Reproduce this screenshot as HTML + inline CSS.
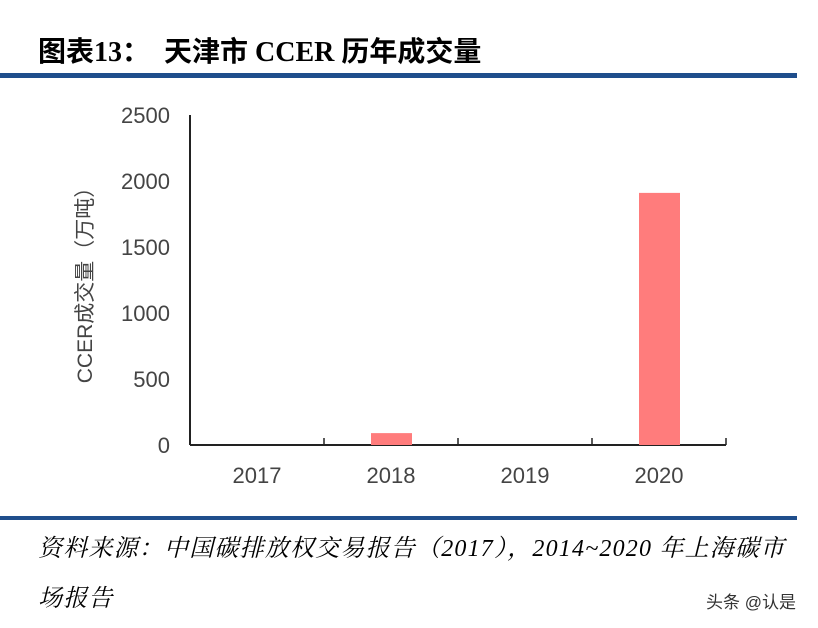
<!DOCTYPE html>
<html><head><meta charset="utf-8"><style>
body{margin:0;background:#fff;width:818px;height:628px;overflow:hidden;position:relative;font-family:"Liberation Sans","Noto Sans CJK SC",sans-serif;}
.t{position:absolute;white-space:nowrap}
</style></head><body>
<div class="t" style="left:38px;top:30px;font-size:28px;font-weight:bold;font-family:'Liberation Serif','Noto Sans CJK SC',serif;">图表13：&nbsp;&nbsp;天津市 CCER 历年成交量</div>
<div style="position:absolute;left:0;top:73px;width:797px;height:5px;background:#1f4e8c"></div>
<svg width="818" height="628" style="position:absolute;left:0;top:0" id="svg">
<text transform="translate(92,280) rotate(-90)" text-anchor="middle" font-size="21" fill="#444" font-family="Liberation Sans,Noto Sans CJK SC,sans-serif">CCER成交量（万吨）</text>
</svg>
<div style="position:absolute;left:0;top:516px;width:797px;height:4px;background:#1f4e8c"></div>
<div class="t" style="left:38px;top:524px;font-size:24px;letter-spacing:1.2px;font-style:italic;font-family:'Liberation Serif','Noto Serif CJK SC',serif;line-height:50px;white-space:normal;width:755px">资料来源：中国碳排放权交易报告（2017），2014~2020 年上海碳市场报告</div>
<div class="t" style="left:706px;top:588px;font-size:17px;color:#333">头条 @认是</div>
<script>
const categories=["2017","2018","2019","2020"];
const values=[0,90,0,1910];
const yTicks=[0,500,1000,1500,2000,2500];
const svg=document.getElementById('svg');
const NS='http://www.w3.org/2000/svg';
const x0=190,x1=726,y0=445,yTop=115,yMax=2500;
const y=v=>y0-(v/yMax)*(y0-yTop);
const cw=(x1-x0)/categories.length;
function mk(t,a){const e=document.createElementNS(NS,t);for(const k in a)e.setAttribute(k,a[k]);svg.appendChild(e);return e;}
yTicks.forEach(v=>{
 const t=mk('text',{x:x0-20,y:y(v)+8,'text-anchor':'end','font-size':22,fill:'#444'});
 t.textContent=v;
 
 
});
const ya=mk('line',{x1:x0,x2:x0,y1:yTop,y2:y0,stroke:'#222','stroke-width':2});


const xa=mk('line',{x1:x0,x2:x1,y1:y0,y2:y0,stroke:'#222','stroke-width':2});


categories.forEach((c,i)=>{
 const tx=x0+cw*(i+1);
 const tk=mk('line',{x1:tx,x2:tx,y1:y0,y2:y0-7,stroke:'#222','stroke-width':1.5});
 
 
 const cx=x0+cw*(i+0.5);
 const b=mk('rect',{x:cx-20,y:y(values[i]),width:41,height:y0-y(values[i]),fill:'#ff7c7c'});
 
 
 const t=mk('text',{x:cx,y:483,'text-anchor':'middle','font-size':22,fill:'#444'});
 t.textContent=c;
 
 
});
</script>
</body></html>
